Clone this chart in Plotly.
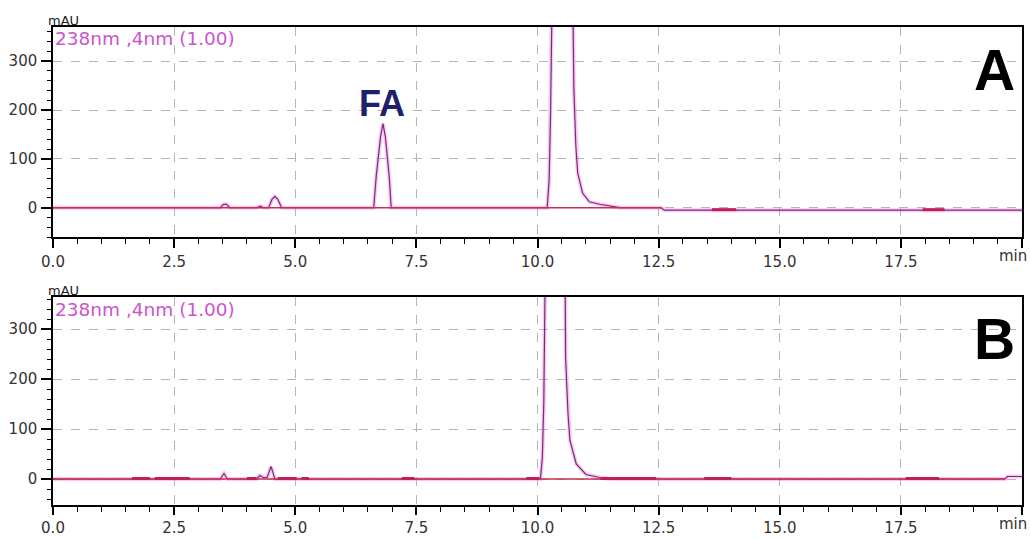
import plotly.graph_objects as go

# ---------------- data ----------------
# Panel A chromatogram breakpoints (time in min, signal in mAU)
a_time = [0, 3.45, 3.52, 3.58, 3.65, 4.2, 4.28, 4.35, 4.45, 4.52, 4.58, 4.64, 4.72,
          6.62, 6.67, 6.71, 6.76, 6.81, 6.86, 6.90, 6.94, 6.98,
          10.2, 10.24, 10.27, 10.30, 10.45, 10.73, 10.75, 10.79, 10.83, 10.93, 11.07,
          11.28, 11.55, 11.7, 12.55, 12.62, 20]
a_signal = [0, 0, 7, 7, 0, 0, 3, 0, 0, 17, 23, 17, 0,
            0, 63, 104, 145, 172, 145, 104, 63, 0,
            0, 57, 194, 420, 1000, 420, 245, 128, 71, 30, 12,
            7, 2, 0, 0, -5, -5]
a_base_time = [0, 12.55]
a_base_signal = [0, 0]
a_mark_start = [13.6, 17.95]
a_mark_end = [14.1, 18.4]
a_mark_level = -4

# Panel B chromatogram breakpoints
b_time = [0, 3.45, 3.53, 3.6, 4.2, 4.27, 4.34, 4.42, 4.5, 4.58,
          10.06, 10.1, 10.13, 10.16, 10.35, 10.57, 10.58, 10.63, 10.67, 10.8, 11.0,
          11.28, 11.5, 19.65, 19.7, 20]
b_signal = [0, 0, 11, 0, 0, 7, 3, 3, 25, 0,
            0, 43, 153, 420, 1000, 420, 243, 130, 77, 30, 9,
            3, 0, 0, 5, 5]
b_base_time = [0, 19.65]
b_base_signal = [0, 0]
b_mark_start = [1.63, 2.1, 4.0, 4.64, 5.13, 7.2, 9.77, 11.3, 13.44, 17.6]
b_mark_end = [2.0, 2.82, 4.2, 5.03, 5.28, 7.46, 10.04, 12.45, 14.0, 18.29]
b_mark_level = 1

x_tickvals = [0, 2.5, 5, 7.5, 10, 12.5, 15, 17.5, 20]
x_ticktext = ["0.0", "2.5", "5.0", "7.5", "10.0", "12.5", "15.0", "17.5", ""]
x_unit = "min"
y_tickvals = [0, 100, 200, 300]

W, H = 1030, 540
HALO = "rgba(240,130,240,0.45)"
CURVE = "#7a2e72"
BASE = "#c8304c"
MARK = "#c0205a"
FONT = "DejaVu Sans, Verdana, sans-serif"

fig = go.Figure()


def add_panel(t, s, bt, bs, ms, me, ml, xa, ya):
    fig.add_trace(go.Scatter(x=t, y=s, mode="lines", xaxis=xa, yaxis=ya,
                             line=dict(color=HALO, width=4), hoverinfo="skip"))
    fig.add_trace(go.Scatter(x=t, y=s, mode="lines", xaxis=xa, yaxis=ya,
                             line=dict(color=CURVE, width=1.2)))
    fig.add_trace(go.Scatter(x=bt, y=bs, mode="lines", xaxis=xa, yaxis=ya,
                             line=dict(color=BASE, width=1.4)))
    mx, my = [], []
    for a, b in zip(ms, me):
        mx += [a, b, None]
        my += [ml, ml, None]
    fig.add_trace(go.Scatter(x=mx, y=my, mode="lines", xaxis=xa, yaxis=ya,
                             line=dict(color=MARK, width=3)))


add_panel(a_time, a_signal, a_base_time, a_base_signal,
          a_mark_start, a_mark_end, a_mark_level, "x", "y")
add_panel(b_time, b_signal, b_base_time, b_base_signal,
          b_mark_start, b_mark_end, b_mark_level, "x2", "y2")

xdom = [53 / W, 1022 / W]
ydomA = [1 - 237 / H, 1 - 27 / H]
ydomB = [1 - 505 / H, 1 - 297 / H]

tickfont = dict(family=FONT, size=15, color="#333")

xcommon = dict(range=[0, 20], tickvals=x_tickvals, ticktext=x_ticktext,
               showline=True, mirror=True, linecolor="black", linewidth=1.5,
               ticks="outside", tickwidth=1.5, tickcolor="black",
               minor=dict(dtick=0.5, ticklen=5, tickwidth=1.3, tickcolor="black", showgrid=False),
               showgrid=True, gridcolor="#b5b5b5", griddash="dash", gridwidth=1,
               zeroline=False, tickfont=tickfont, domain=xdom, fixedrange=True,
               automargin=False)
ycommon = dict(tickvals=y_tickvals,
               showline=True, mirror=True, linecolor="black", linewidth=1.5,
               ticks="outside", ticklen=10, tickwidth=1.5, tickcolor="black",
               minor=dict(dtick=20, ticklen=4, tickwidth=1.2, tickcolor="black", showgrid=False),
               showgrid=True, gridcolor="#b5b5b5", griddash="dash", gridwidth=1,
               zeroline=False, tickfont=tickfont, fixedrange=True, automargin=False,
               ticklabelstandoff=1)

fig.update_layout(
    width=W, height=H,
    margin=dict(l=0, r=0, t=0, b=0, autoexpand=False),
    paper_bgcolor="white", plot_bgcolor="white",
    showlegend=False,
    xaxis=dict(**xcommon, anchor="y", ticklen=9, ticklabelstandoff=1),
    yaxis=dict(**ycommon, range=[-60, 370], domain=ydomA, anchor="x"),
    xaxis2=dict(**xcommon, anchor="y2", ticklen=8, ticklabelstandoff=0),
    yaxis2=dict(**ycommon, range=[-52, 364], domain=ydomB, anchor="x2"),
)

ann = []
for ytop, letter, ly, yunit in [(21, "A", 70, 256), (290, "B", 339, 524)]:
    ann.append(dict(x=63 / W, y=1 - ytop / H, xref="paper", yref="paper", text="mAU",
                    showarrow=False, xanchor="center", yanchor="middle",
                    font=dict(family=FONT, size=13, color="#222")))
    ann.append(dict(x=994 / W, y=1 - ly / H, xref="paper", yref="paper", text="<b>%s</b>" % letter,
                    showarrow=False, xanchor="center", yanchor="middle",
                    font=dict(family="Liberation Sans, Arial", size=57, color="black")))
    ann.append(dict(x=1029 / W, y=1 - yunit / H, xref="paper", yref="paper", text=x_unit,
                    showarrow=False, xanchor="right", yanchor="middle",
                    font=tickfont))
for ytxt in [38, 309]:
    ann.append(dict(x=53 / W, y=1 - ytxt / H, xref="paper", yref="paper",
                    text="238nm ,4nm (1.00)", showarrow=False, xanchor="left", yanchor="middle",
                    font=dict(family=FONT, size=18.5, color="#cc55cc")))
ann.append(dict(x=6.8, y=213, xref="x", yref="y", text="<b>FA</b>", showarrow=False,
                xanchor="center", yanchor="middle",
                font=dict(family="Liberation Sans Narrow, Liberation Sans, Arial", size=36,
                          color="#1f1f6b")))
fig.update_layout(annotations=ann)

fig.write_html("out.html")
